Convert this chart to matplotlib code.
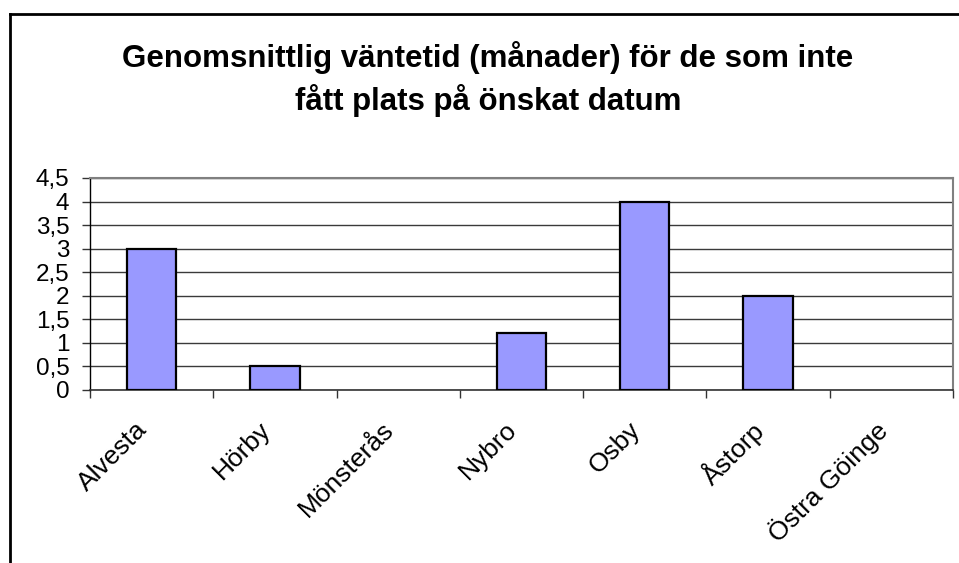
import matplotlib
matplotlib.use("Agg")
import matplotlib.pyplot as plt
import matplotlib.transforms as mtransforms
from matplotlib.lines import Line2D
import numpy as np

plt.rcParams['font.family'] = ['Liberation Sans', 'DejaVu Sans']

categories = ["Alvesta", "Hörby", "Mönsterås", "Nybro", "Osby", "Åstorp", "Östra Göinge"]
values = [3, 0.5, 0, 1.2, 4, 2, 0]
yticks = [0, 0.5, 1, 1.5, 2, 2.5, 3, 3.5, 4, 4.5]
ytick_labels = ["0", "0,5", "1", "1,5", "2", "2,5", "3", "3,5", "4", "4,5"]
title = "Genomsnittlig väntetid (månader) för de som inte\nfått plats på önskat datum"

W, H = 959, 563
DPI = 100
fig = plt.figure(figsize=(W / DPI, H / DPI), dpi=DPI)
fig.patch.set_facecolor("white")

# axes in pixel coordinates
x0, x1 = 90, 953
y_top, y_bot = 178, 390
ax = fig.add_axes([x0 / W, (H - y_bot) / H, (x1 - x0) / W, (y_bot - y_top) / H])

n = len(categories)
pos = np.arange(n)
edges = ["black" if v > 0 else "none" for v in values]
ax.bar(pos, values, width=0.4, color="#9999FF", edgecolor=edges, linewidth=1.6, zorder=3)

ax.set_xlim(-0.5, n - 0.5)
ax.set_ylim(0, 4.5)

# grid
ax.set_yticks(yticks)
ax.set_yticklabels(ytick_labels, fontsize=17.5)
ax.yaxis.grid(True, color="#3a3a3a", linewidth=1.0, zorder=1)
ax.set_axisbelow(True)

# spines
for s in ["top", "right"]:
    ax.spines[s].set_color("#808080")
    ax.spines[s].set_linewidth(1.5)
ax.spines["left"].set_color("black")
ax.spines["left"].set_linewidth(1.0)
ax.spines["bottom"].set_color("#333333")
ax.spines["bottom"].set_linewidth(1.2)

ax.tick_params(axis="y", direction="out", length=5.8, width=1, color="#333333", pad=9)

# x ticks: labels at centers, tick marks at boundaries
ax.set_xticks(pos)
ax.set_xticklabels(categories, fontsize=19, rotation=45, ha="right", va="center",
                   rotation_mode="anchor")
ax.tick_params(axis="x", which="major", length=0, pad=26)
ax.set_xticks(np.arange(-0.5, n, 1.0), minor=True)
ax.tick_params(axis="x", which="minor", direction="out", length=5.8, width=1, color="#333333")
offset = mtransforms.ScaledTranslation(-8 / DPI, 0, fig.dpi_scale_trans)
for lab in ax.get_xticklabels():
    lab.set_transform(lab.get_transform() + offset)

# title
fig.text(488 / W, 1 - 79 / H, title, ha="center", va="center", fontsize=22.5,
         fontweight="bold", linespacing=1.35)

# chart border (left and top visible)
fig.add_artist(Line2D([10 / W, 10 / W], [0, 1 - 14 / H], transform=fig.transFigure,
                      color="black", linewidth=2))
fig.add_artist(Line2D([10 / W, 1.0], [1 - 14 / H, 1 - 14 / H], transform=fig.transFigure,
                      color="black", linewidth=2))

fig.savefig("out.png", dpi=DPI)
